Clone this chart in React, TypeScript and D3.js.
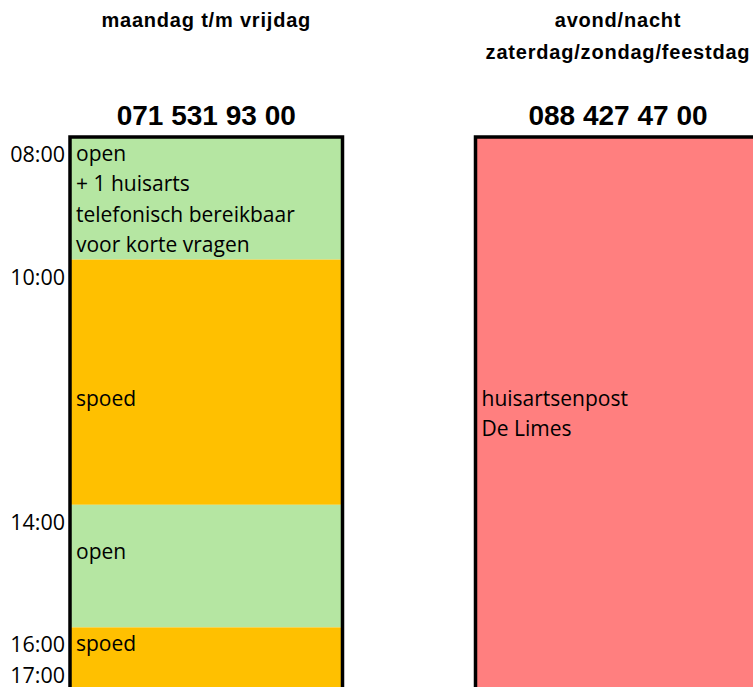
import React, { useRef, useEffect } from "react";
import * as d3 from "d3";

// schedule columns
const columnTitles = [["maandag t/m vrijdag"], ["avond/nacht", "zaterdag/zondag/feestdag"]];
const columnPhones = ["071 531 93 00", "088 427 47 00"];

// hour labels on the left (17:00 sits on the line below 16:00)
const hourLabels = ["08:00", "10:00", "14:00", "16:00", "17:00"];
const hourLabelAt = [8, 10, 14, 16, 16.5];

// weekday blocks
const weekdayStart = [8, 10, 14, 16];
const weekdayEnd = [10, 14, 16, 17];
const weekdayStatus = ["open", "spoed", "open", "spoed"];
const weekdayText = [
  ["open", "+ 1 huisarts", "telefonisch bereikbaar", "voor korte vragen"],
  ["spoed"],
  ["open"],
  ["spoed"],
];
const weekdayTextAt = [8, 12, 14.5, 16];

// evening / weekend block
const eveningStart = [8];
const eveningEnd = [17];
const eveningStatus = ["post"];
const eveningText = [["huisartsenpost", "De Limes"]];
const eveningTextAt = [12];

const statusColor: Record<string, string> = {
  open: "#B5E6A2",
  spoed: "#FFC000",
  post: "#FF7F7F",
};

const App = () => {
  const chartRef = useRef<HTMLDivElement>(null);

  useEffect(() => {
    document.body.style.margin = "0";
    const container = d3.select(chartRef.current);
    container.select("svg").remove();

    const width = 753;
    const height = 687;

    const svg = container
      .append("svg")
      .attr("width", width)
      .attr("height", height)
      .style("display", "block");

    // hours -> vertical position
    const y = d3.scaleLinear().domain([8, 17]).range([137, 137 + 9 * 61.3]);
    const slot = y(8.5) - y(8); // one text line = half an hour
    const baseOff = 23.5;

    const cols = [
      { x0: 70, x1: 342.5 },
      { x0: 475.5, x1: 760.5 },
    ];

    // headers
    columnTitles.forEach((lines, i) => {
      const cx = (cols[i].x0 + cols[i].x1) / 2;
      lines.forEach((t, j) => {
        svg
          .append("text")
          .attr("x", cx)
          .attr("y", 27 + j * 32)
          .attr("text-anchor", "middle")
          .style("font-family", "'Liberation Sans', sans-serif")
          .style("font-weight", "bold")
          .style("font-size", "20px")
          .style("letter-spacing", "0.8px")
          .text(t);
      });
      svg
        .append("text")
        .attr("x", cx)
        .attr("y", 125)
        .attr("text-anchor", "middle")
        .style("font-family", "'Liberation Sans', sans-serif")
        .style("font-weight", "bold")
        .style("font-size", "28px")
        .text(columnPhones[i]);
    });

    const drawColumn = (
      col: { x0: number; x1: number },
      starts: number[],
      ends: number[],
      status: string[],
      texts: string[][],
      textAt: number[]
    ) => {
      const g = svg.append("g");
      g.selectAll("rect.block")
        .data(starts)
        .enter()
        .append("rect")
        .attr("class", "block")
        .attr("x", col.x0)
        .attr("y", (d) => y(d))
        .attr("width", col.x1 - col.x0)
        .attr("height", (d, i) => y(ends[i]) - y(d))
        .style("fill", (d, i) => statusColor[status[i]]);

      texts.forEach((lines, i) => {
        lines.forEach((t, j) => {
          g.append("text")
            .attr("x", col.x0 + 6)
            .attr("y", y(textAt[i]) + j * slot + baseOff)
            .style("font-family", "'Open Sans', sans-serif")
            .style("font-size", "21px")
            .style("fill", "#000")
            .text(t);
        });
      });

      // outline: left, top, right
      g.append("path")
        .attr("d", `M${col.x0},${y(17) + 5}V${y(8)}H${col.x1}V${y(17) + 5}`)
        .style("fill", "none")
        .style("stroke", "#000")
        .style("stroke-width", 3.5);
    };

    drawColumn(cols[0], weekdayStart, weekdayEnd, weekdayStatus, weekdayText, weekdayTextAt);
    drawColumn(cols[1], eveningStart, eveningEnd, eveningStatus, eveningText, eveningTextAt);

    // hour labels
    svg
      .selectAll("text.hour")
      .data(hourLabels)
      .enter()
      .append("text")
      .attr("class", "hour")
      .attr("x", 65)
      .attr("y", (d, i) => y(hourLabelAt[i]) + baseOff + 1.5)
      .attr("text-anchor", "end")
      .style("font-family", "'Open Sans', sans-serif")
      .style("font-size", "21.5px")
      .text((d) => d);
  }, []);

  return <div ref={chartRef} />;
};

export default App;
